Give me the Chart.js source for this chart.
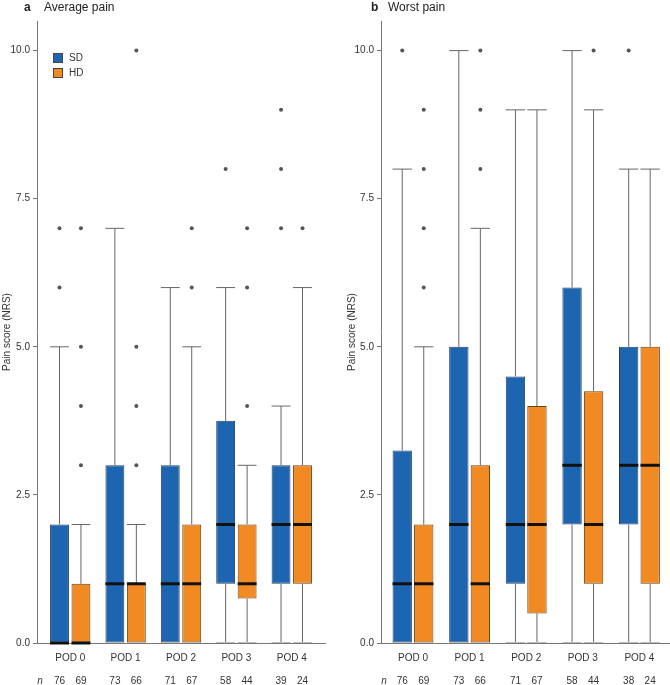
<!DOCTYPE html>
<html>
<head>
<meta charset="utf-8">
<script src="https://cdn.jsdelivr.net/npm/chart.js@4.4.1/dist/chart.umd.min.js"></script>
<style>
  html, body { margin: 0; padding: 0; background: #fff; }
  body { font-family: "Liberation Sans", Arial, sans-serif; color: #333; }
  #wrap { position: relative; width: 670px; height: 685px; overflow: hidden; }
  canvas { position: absolute; top: 0; }
  #ca { left: 0; }
  #cb { left: 335px; }
  .ttl { position: absolute; top: 0; font-size: 12px; line-height: 14px; color: #222; white-space: nowrap; }
  .ttl.lt { font-weight: bold; }
  .leg { position: absolute; font-size: 10px; line-height: 12px; color: #333; }
  .sw { position: absolute; width: 8px; height: 8px; border: 1px solid #444; }
</style>
</head>
<body>
<div id="wrap">
  <canvas id="ca" width="335" height="685"></canvas>
  <canvas id="cb" width="335" height="685"></canvas>
  <div class="ttl lt" style="left:24px">a</div>
  <div class="ttl" style="left:44px">Average pain</div>
  <div class="ttl lt" style="left:371px">b</div>
  <div class="ttl" style="left:388px">Worst pain</div>
  <div class="sw" style="left:53px;top:53px;background:#1d65b1"></div>
  <div class="leg" style="left:69px;top:52px">SD</div>
  <div class="sw" style="left:53px;top:68px;background:#f28a23"></div>
  <div class="leg" style="left:69px;top:67px">HD</div>
</div>
<script>
// ---------- data ----------
const categories = ['POD 0', 'POD 1', 'POD 2', 'POD 3', 'POD 4'];
const yTicks = [0, 2.5, 5, 7.5, 10];
const seriesNames = ['SD', 'HD'];

// (a) Average pain
const avgSDMin = [0, 0, 0, 0, 0];
const avgSDQ1  = [0, 0, 0, 1, 1];
const avgSDMed = [0, 1, 1, 2, 2];
const avgSDQ3  = [2, 3, 3, 3.75, 3];
const avgSDMax = [5, 7, 6, 6, 4];
const avgSDOut = [[6, 7], [], [], [8], [7, 8, 9]];
const avgHDMin = [0, 0, 0, 0, 0];
const avgHDQ1  = [0, 0, 0, 0.75, 1];
const avgHDMed = [0, 1, 1, 1, 2];
const avgHDQ3  = [1, 1, 2, 2, 3];
const avgHDMax = [2, 2, 5, 3, 6];
const avgHDOut = [[3, 4, 5, 7], [3, 4, 5, 10], [6, 7], [4, 6, 7], [7]];
const avgNSD = [76, 73, 71, 58, 39];
const avgNHD = [69, 66, 67, 44, 24];

// (b) Worst pain
const worSDMin = [0, 0, 0, 0, 0];
const worSDQ1  = [0, 0, 1, 2, 2];
const worSDMed = [1, 2, 2, 3, 3];
const worSDQ3  = [3.25, 5, 4.5, 6, 5];
const worSDMax = [8, 10, 9, 10, 8];
const worSDOut = [[10], [], [], [], [10]];
const worHDMin = [0, 0, 0, 0, 0];
const worHDQ1  = [0, 0, 0.5, 1, 1];
const worHDMed = [1, 1, 2, 2, 3];
const worHDQ3  = [2, 3, 4, 4.25, 5];
const worHDMax = [5, 7, 9, 9, 8];
const worHDOut = [[6, 7, 8, 9], [8, 9, 10], [], [10], []];
const worNSD = [76, 73, 71, 58, 38];
const worNHD = [69, 66, 67, 44, 24];

// ---------- styling ----------
const FONT = '"Liberation Sans", Arial, sans-serif';
const colors = { SD: '#1d65b1', HD: '#f28a23' };
const borderColors = { SD: '#27405e', HD: '#6b3f14' };

function boxStats(min, q1, med, q3, max, out) {
  return categories.map((c, i) => ({ min: min[i], q1: q1[i], med: med[i], q3: q3[i], max: max[i], out: out[i] }));
}

const boxPlugin = {
  id: 'boxExtras',
  afterDatasetsDraw(chart) {
    const ctx = chart.ctx;
    const ys = chart.scales.y;
    chart.data.datasets.forEach((ds, d) => {
      const meta = chart.getDatasetMeta(d);
      meta.data.forEach((el, i) => {
        const s = ds.stats[i];
        const x = el.x, hw = el.width / 2;
        ctx.save();
        ctx.strokeStyle = '#666';
        ctx.lineWidth = 1;
        ctx.beginPath();
        // upper whisker
        ctx.moveTo(x, ys.getPixelForValue(s.q3));
        ctx.lineTo(x, ys.getPixelForValue(s.max));
        ctx.moveTo(x - hw, ys.getPixelForValue(s.max));
        ctx.lineTo(x + hw, ys.getPixelForValue(s.max));
        // lower whisker
        if (s.q1 > s.min) {
          ctx.moveTo(x, ys.getPixelForValue(s.q1));
          ctx.lineTo(x, ys.getPixelForValue(s.min));
        }
        ctx.stroke();
        ctx.strokeStyle = '#bbb';
        ctx.beginPath();
        ctx.moveTo(x - hw, ys.getPixelForValue(s.min) - 0.5);
        ctx.lineTo(x + hw, ys.getPixelForValue(s.min) - 0.5);
        ctx.stroke();
        // median
        ctx.strokeStyle = '#111';
        ctx.lineWidth = 3;
        ctx.beginPath();
        ctx.moveTo(x - hw, ys.getPixelForValue(s.med));
        ctx.lineTo(x + hw, ys.getPixelForValue(s.med));
        ctx.stroke();
        // outliers
        ctx.fillStyle = '#555';
        s.out.forEach(v => {
          ctx.beginPath();
          ctx.arc(x, ys.getPixelForValue(v), 2, 0, Math.PI * 2);
          ctx.fill();
        });
        ctx.restore();
      });
    });
  },
  afterDraw(chart) {
    const ctx = chart.ctx;
    const yRow = chart.options.plugins.boxExtras.nRowY;
    ctx.save();
    ctx.fillStyle = '#333';
    ctx.textBaseline = 'middle';
    ctx.textAlign = 'center';
    ctx.font = 'italic 10px ' + FONT;
    ctx.fillText('n', chart.chartArea.left + 3, yRow);
    ctx.font = '10px ' + FONT;
    chart.data.datasets.forEach((ds, d) => {
      const meta = chart.getDatasetMeta(d);
      meta.data.forEach((el, i) => {
        ctx.fillText(String(ds.nValues[i]), el.x, yRow);
      });
    });
    ctx.restore();
  }
};

function makeChart(id, sdStats, hdStats, nSD, nHD, cfg) {
  const mk = (name, stats, nv) => ({
    label: name,
    data: stats.map((s, i) => ({ x: i, y: [s.q1, s.q3] })),
    stats: stats,
    nValues: nv,
    backgroundColor: colors[name],
    borderColor: borderColors[name],
    borderWidth: 1,
    borderSkipped: false,
    categoryPercentage: cfg.catPct,
    barPercentage: cfg.barPct
  });
  return new Chart(document.getElementById(id), {
    type: 'bar',
    data: { datasets: [mk(seriesNames[0], sdStats, nSD), mk(seriesNames[1], hdStats, nHD)] },
    options: {
      responsive: false,
      animation: false,
      layout: { padding: { left: 0, right: cfg.rightPad, top: 21, bottom: 0 } },
      plugins: {
        legend: { display: false },
        tooltip: { enabled: false },
        boxExtras: { nRowY: 681 }
      },
      scales: {
        x: {
          type: 'linear',
          min: cfg.xMin, max: cfg.xMax,
          offset: false,
          afterBuildTicks: s => { s.ticks = categories.map((c, i) => ({ value: i })); },
          afterFit: s => { s.height = 42; },
          ticks: {
            autoSkip: false, maxRotation: 0, padding: 9,
            color: '#333', font: { family: FONT, size: 10 },
            callback: v => categories[v]
          },
          grid: { display: false, drawTicks: false },
          border: { display: true, color: '#777', width: 1 }
        },
        y: {
          min: 0, max: 10.5,
          afterBuildTicks: s => { s.ticks = yTicks.map(v => ({ value: v })); },
          afterFit: s => { s.width = cfg.yWidth; },
          ticks: {
            padding: 3, color: '#333', font: { family: FONT, size: 10 },
            callback: v => Number(v).toFixed(1)
          },
          grid: { display: true, drawOnChartArea: false, drawTicks: true, tickLength: 4, color: '#777' },
          border: { display: true, color: '#777', width: 1 },
          title: {
            display: true, text: 'Pain score (NRS)', color: '#333',
            font: { family: FONT, size: 10 }, padding: { top: cfg.titlePad, bottom: 0 }
          }
        }
      }
    },
    plugins: [boxPlugin]
  });
}

makeChart('ca',
  boxStats(avgSDMin, avgSDQ1, avgSDMed, avgSDQ3, avgSDMax, avgSDOut),
  boxStats(avgHDMin, avgHDQ1, avgHDMed, avgHDQ3, avgHDMax, avgHDOut),
  avgNSD, avgNHD,
  { xMin: -0.6, xMax: 4.6, yWidth: 37, rightPad: 10, titlePad: 1, catPct: 0.775, barPct: 0.88 });

makeChart('cb',
  boxStats(worSDMin, worSDQ1, worSDMed, worSDQ3, worSDMax, worSDOut),
  boxStats(worHDMin, worHDQ1, worHDMed, worHDQ3, worHDMax, worHDOut),
  worNSD, worNHD,
  { xMin: -0.565, xMax: 4.54, yWidth: 46, rightPad: 0, titlePad: 11, catPct: 0.76, barPct: 0.9 });
</script>
</body>
</html>
